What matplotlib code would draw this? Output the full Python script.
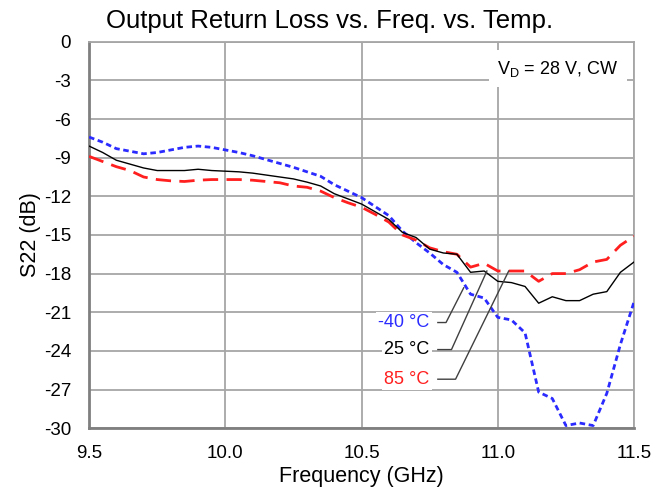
import matplotlib
matplotlib.use('Agg')
import matplotlib.pyplot as plt
import numpy as np

plt.rcParams['font.family'] = ['Liberation Sans', 'DejaVu Sans']
plt.rcParams['axes.unicode_minus'] = False

# frequency points (GHz)
freq = np.round(np.arange(9.5, 11.5001, 0.05), 2)

# S22 (dB) per temperature
s22_m40 = [-7.4, -7.8, -8.3, -8.5, -8.7, -8.6, -8.4, -8.2, -8.1, -8.2,
           -8.4, -8.6, -8.85, -9.15, -9.45, -9.75, -10.1, -10.45, -11.1, -11.6,
           -12.1, -12.8, -13.5, -14.7, -15.6, -16.4, -17.3, -17.9, -19.6, -19.9,
           -21.4, -21.6, -22.6, -27.2, -27.7, -29.8, -29.6, -29.8, -27.3, -23.5,
           -20.2]
s22_25 = [-8.1, -8.6, -9.2, -9.5, -9.8, -10.0, -10.0, -10.0, -9.9, -10.0,
          -10.05, -10.1, -10.2, -10.35, -10.5, -10.65, -10.9, -11.2, -11.8, -12.2,
          -12.6, -13.2, -13.8, -14.8, -15.2, -16.1, -16.4, -16.5, -17.9, -17.8,
          -18.6, -18.7, -19.0, -20.3, -19.8, -20.1, -20.1, -19.6, -19.4, -17.9,
          -17.1]
s22_85 = [-8.9, -9.3, -9.7, -10.0, -10.5, -10.7, -10.8, -10.85, -10.75, -10.7,
          -10.7, -10.7, -10.75, -10.85, -10.95, -11.2, -11.3, -11.6, -12.1, -12.5,
          -12.85, -13.4, -14.0, -15.0, -15.4, -16.0, -16.3, -16.5, -17.5, -17.2,
          -17.8, -17.8, -17.8, -18.6, -18.0, -18.0, -17.7, -17.1, -16.9, -15.8,
          -15.1]

labels = ['-40 °C', '25 °C', '85 °C']
colors = ['#2b2bff', '#000000', '#ff1f1f']
# label position (freq, dB) and the curve point its leader line points to
label_pos = [(10.75, -21.8), (10.75, -23.9), (10.75, -26.2)]
leader_end = [(10.875, -19.1), (10.96, -17.8), (11.04, -17.8)]
leader_knee = [10.81, 10.83, 10.845]

fig = plt.figure(figsize=(6.55, 4.91), dpi=100)
ax = fig.add_axes([0.136, 0.128, 0.832, 0.787])

grid_c = '#a6a6a6'
ax.set_axisbelow(True)
ax.grid(True, color=grid_c, linewidth=1.3)

ax.plot(freq, s22_m40, color=colors[0], linewidth=2, linestyle=(0, (2.0, 1.3)), zorder=4)
ax.plot(freq, s22_25, color=colors[1], linewidth=1, linestyle='-', zorder=5)
ax.plot(freq, s22_85, color=colors[2], linewidth=2, linestyle=(0, (5.5, 3.0)), zorder=4)

for i in range(3):
    lx, ly = label_pos[i]
    ex, ey = leader_end[i]
    ax.plot([lx + 0.03, leader_knee[i], ex], [ly, ly, ey], color='#404040', linewidth=1, zorder=6)
    ax.text(lx, ly, labels[i], color=colors[i], fontsize=13, ha='right', va='center',
            zorder=6, bbox=dict(facecolor='white', edgecolor='none', pad=1.5))

ax.text(11.22, -2.1, r'V$_\mathregular{D}$ = 28 V, CW', fontsize=13, ha='center', va='center',
        zorder=3, bbox=dict(facecolor='white', edgecolor='none', pad=6))

ax.set_xlim(9.5, 11.5)
ax.set_ylim(-30, 0)
ax.set_xticks(np.arange(9.5, 11.51, 0.5))
ax.set_xticklabels(['9.5', '10.0', '10.5', '11.0', '11.5'])
ax.set_yticks(np.arange(-30, 0.1, 3))
ax.tick_params(length=0, labelsize=13.5, colors='#000000')
ax.tick_params(axis='x', pad=12)
ax.tick_params(axis='y', pad=13)

for side in ['top', 'right']:
    ax.spines[side].set_color(grid_c)
    ax.spines[side].set_linewidth(1.3)
for side in ['left', 'bottom']:
    ax.spines[side].set_color('#7f7f7f')
    ax.spines[side].set_linewidth(2)

ax.set_xlabel('Frequency (GHz)', fontsize=15.5, labelpad=3)
ax.set_ylabel('S22 (dB)', fontsize=15.5, labelpad=2)
fig.text(0.503, 0.942, 'Output Return Loss vs. Freq. vs. Temp.', fontsize=18.5,
         ha='center', va='baseline')

fig.savefig('out.png', dpi=100)
